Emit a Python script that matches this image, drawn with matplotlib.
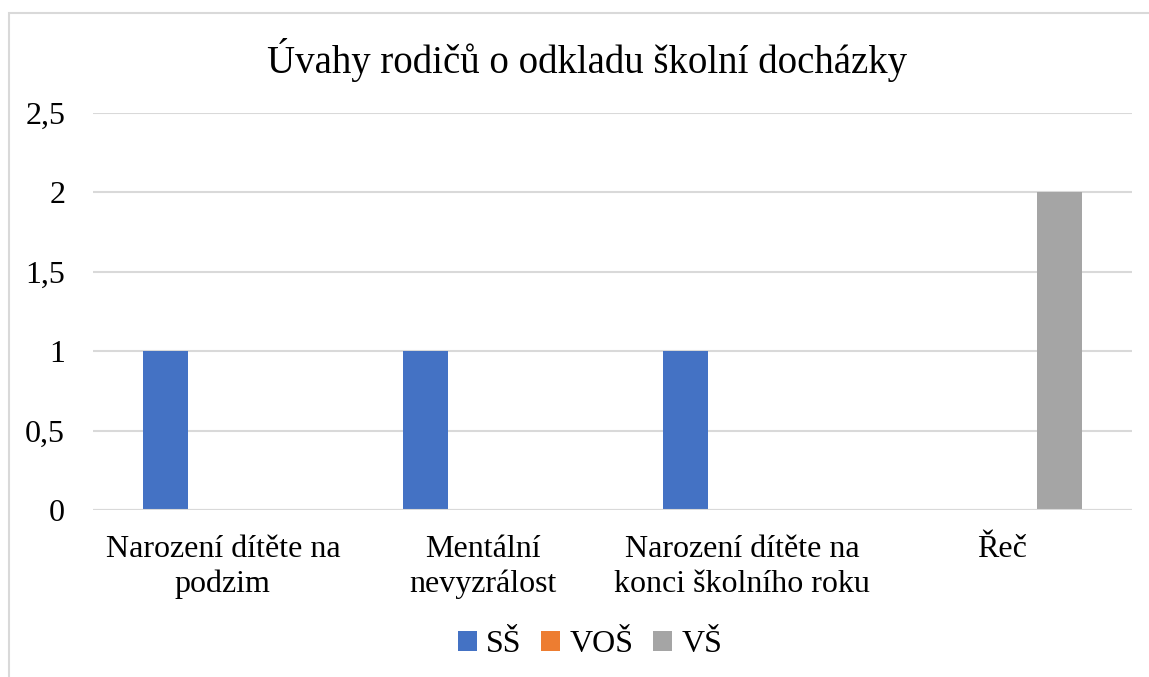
import numpy as np
import matplotlib.pyplot as plt
from matplotlib.patches import Rectangle

categories = ["Narození dítěte na\npodzim", "Mentální\nnevyzrálost",
              "Narození dítěte na\nkonci školního roku", "Řeč"]
series_names = ["SŠ", "VOŠ", "VŠ"]
ss_values = [1, 1, 1, 0]
vos_values = [0, 0, 0, 0]
vs_values = [0, 0, 0, 2]
colors = ["#4472c4", "#ed7d31", "#a5a5a5"]
yticks = [0, 0.5, 1, 1.5, 2, 2.5]
ytick_labels = ["0", "0,5", "1", "1,5", "2", "2,5"]

plt.rcParams['font.family'] = ['Liberation Serif', 'DejaVu Serif']

fig = plt.figure(figsize=(11.49, 6.77), dpi=100)
fig.patches.append(Rectangle((9 / 1149, -0.1), 1.2, 0.1 + 1 - 13 / 677,
                             transform=fig.transFigure, fill=False,
                             edgecolor="#d9d9d9", linewidth=1.5))

ax = fig.add_axes([93 / 1149, 1 - 510 / 677, (1132 - 93) / 1149, (510 - 113) / 677])

x = np.arange(len(categories))
width = 0.173
offset = 0.22
for i, (name, vals) in enumerate(zip(series_names, [ss_values, vos_values, vs_values])):
    ax.bar(x + (i - 1) * offset, vals, width, color=colors[i], label=name, zorder=3)

ax.set_xlim(-0.5, len(categories) - 0.5)
ax.set_ylim(0, 2.5)
ax.set_yticks(yticks)
ax.set_yticklabels(ytick_labels, fontsize=23)
ax.set_xticks(x)
ax.set_xticklabels(categories, fontsize=23, linespacing=1.25)
ax.tick_params(axis='y', length=0, pad=20)
ax.tick_params(axis='x', length=0, pad=18)
ax.grid(axis='y', color="#d9d9d9", linewidth=1.5, zorder=0)
for s in ax.spines.values():
    s.set_visible(False)
ax.axhline(0, color="#d9d9d9", linewidth=1.5, zorder=4)

fig.text(587 / 1149, 1 - 60 / 677, "Úvahy rodičů o odkladu školní docházky",
         ha='center', va='center', fontsize=28)

fig.legend(loc='center', bbox_to_anchor=(590 / 1149, 1 - 645 / 677), ncol=3,
           frameon=False, fontsize=23, handlelength=0.6, handleheight=0.6,
           handletextpad=0.3, columnspacing=0.6)

fig.savefig("out.png", dpi=100)
